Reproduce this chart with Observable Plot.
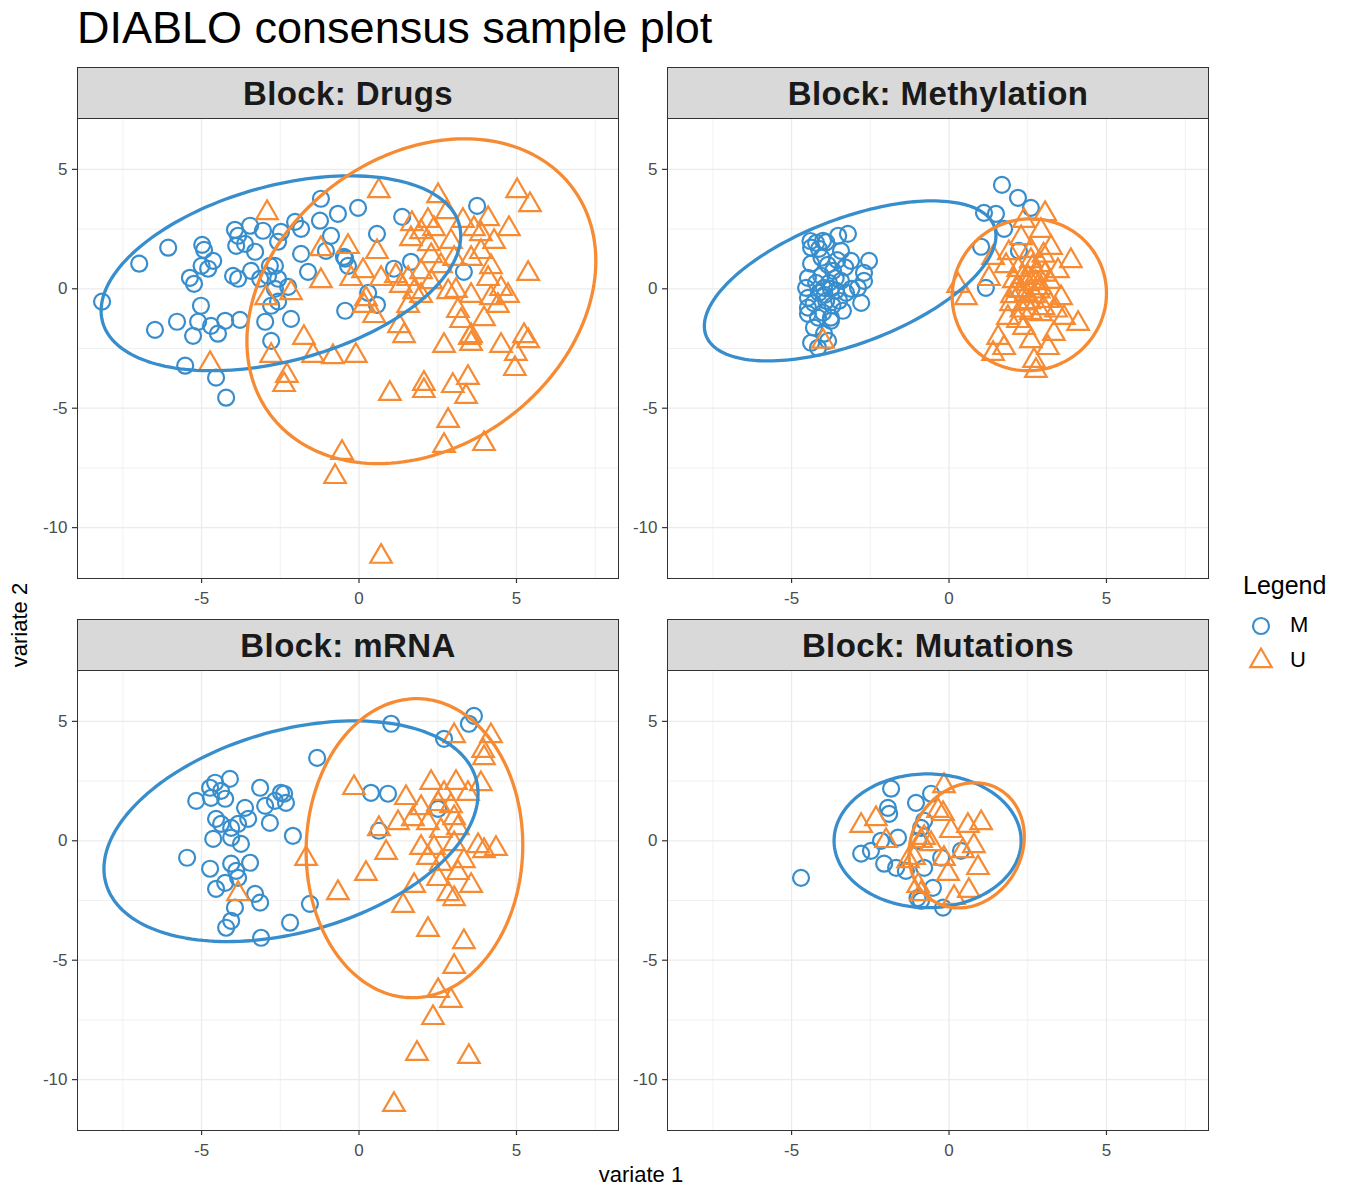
<!DOCTYPE html>
<html><head><meta charset="utf-8">
<script src="https://cdn.jsdelivr.net/npm/d3@7"></script>
<script src="https://cdn.jsdelivr.net/npm/@observablehq/plot@0.6"></script>
<style>
body{margin:0;background:#fff;font-family:"Liberation Sans",Arial,Helvetica,sans-serif;}
#root{position:relative;width:1350px;height:1200px;overflow:hidden;}
.title{position:absolute;left:77px;top:2px;font-size:45px;line-height:52px;color:#000;white-space:nowrap;}
.strip{position:absolute;box-sizing:border-box;border:1px solid #333;background:#d9d9d9;height:52px;width:542px;display:flex;align-items:center;justify-content:center;font-weight:bold;font-size:33px;letter-spacing:0.4px;color:#1a1a1a;padding-top:2px;}
.panel{position:absolute;}
.xlab{position:absolute;left:541px;top:1162px;width:200px;text-align:center;font-size:22px;line-height:26px;color:#000;}
.ylab{position:absolute;left:-80px;top:612px;width:200px;text-align:center;font-size:22px;line-height:26px;color:#000;transform:rotate(-90deg);}
.legend{position:absolute;left:1243px;top:571px;font-size:25px;line-height:29px;color:#000;}
.legend .item{display:flex;align-items:center;height:35px;font-size:22px;}
.legend .item svg{margin-left:5px;margin-right:16px;}
</style>
</head><body>
<div id="root"></div>
<script>
// ---------- data ----------
const blocks = ["Drugs", "Methylation", "mRNA", "Mutations"];
const groups = ["M", "U"];
const groupColors = ["#388ECC", "#F68B33"];
const xTicks = [-5, 0, 5];
const yTicks = [-10, -5, 0, 5];
const xMinor = [-7.5, -2.5, 2.5, 7.5];
const yMinor = [-7.5, -2.5, 2.5];
const xDomain = [-8.94, 8.24];
const yDomain = [-12.13, 7.13];

const drugsM = [[-8.16,-0.54],[-6.98,1.05],[-6.06,1.72],[-4.98,1.84],[-4.92,1.63],[-4.63,1.17],[-5.0,0.96],[-4.79,0.84],[-5.37,0.46],[-5.24,0.21],[-3.94,2.47],[-3.84,2.22],[-3.46,2.64],[-3.9,1.8],[-3.62,1.88],[-3.30,1.55],[-3.05,2.43],[-2.48,2.38],[-2.57,1.97],[-2.03,2.80],[-1.84,2.51],[-1.21,3.77],[-1.24,2.85],[-0.67,3.14],[-0.89,2.22],[-1.05,1.59],[-0.44,1.26],[-1.84,1.46],[-1.62,0.71],[-4.0,0.54],[-3.84,0.42],[-3.43,0.75],[-3.14,0.42],[-2.83,0.96],[-2.67,0.96],[-2.89,0.54],[-2.57,0.42],[-2.67,0.0],[-2.25,0.08],[-2.57,-0.54],[-2.79,-0.71],[-2.16,-1.26],[-5.02,-0.71],[-6.48,-1.72],[-5.78,-1.38],[-5.11,-1.38],[-4.70,-1.55],[-5.27,-1.97],[-4.48,-1.88],[-4.25,-1.34],[-3.78,-1.30],[-2.98,-1.38],[-2.79,-2.18],[-0.44,-0.92],[-5.52,-3.22],[-4.54,-3.72],[-4.22,-4.56],[-0.03,3.39],[1.37,3.01],[0.57,2.30],[3.75,3.47],[1.65,1.13],[1.11,0.84],[3.33,0.71],[0.29,-0.17],[0.57,-0.67],[-0.48,1.34],[-0.35,0.96]];
const drugsU = [[0.63,4.10],[2.51,3.89],[5.02,4.10],[5.43,3.51],[2.79,3.22],[4.10,2.93],[4.76,2.51],[1.68,2.72],[2.19,2.85],[1.97,2.38],[2.38,2.51],[3.30,2.85],[3.65,2.51],[1.65,2.09],[2.22,1.88],[2.92,1.97],[3.87,2.30],[4.29,1.97],[0.57,1.55],[-0.35,1.76],[2.29,1.38],[2.60,0.96],[3.02,1.26],[3.56,1.26],[3.87,1.55],[4.19,0.92],[5.37,0.63],[0.13,0.75],[0.70,0.42],[1.17,0.54],[1.56,0.42],[1.97,0.71],[2.29,0.29],[2.83,-0.13],[3.56,-0.29],[4.10,0.42],[4.51,0.0],[4.73,-0.29],[1.33,0.13],[1.75,-0.13],[0.16,-0.71],[0.48,-1.13],[1.27,-1.55],[1.56,-0.71],[3.14,-0.92],[3.97,-1.26],[4.41,-0.71],[1.43,-1.97],[2.70,-2.38],[3.56,-1.97],[3.56,-2.30],[4.51,-2.38],[5.24,-1.97],[5.37,-2.18],[-0.10,-2.80],[-2.92,3.18],[-1.21,1.67],[-1.21,0.33],[-2.95,-0.38],[-2.16,-0.17],[-1.75,-2.05],[-1.46,-2.80],[-0.83,-2.85],[-2.79,-2.80],[-2.29,-3.64],[-2.38,-4.02],[-4.73,-3.14],[0.98,-4.39],[2.06,-3.97],[2.06,-4.27],[2.98,-4.06],[3.46,-3.72],[3.40,-4.52],[2.83,-5.52],[2.70,-6.57],[3.97,-6.49],[-0.54,-6.86],[-0.76,-7.87],[0.70,-11.21],[3.52,-2.05],[4.98,-2.72],[4.95,-3.35],[-0.25,0.42],[0.22,-0.42],[1.97,-0.29],[3.24,-1.34],[4.19,-0.38],[3.08,-0.08]];

const methM = [[-4.22,1.92],[-4.0,2.01],[-3.52,2.22],[-3.21,2.30],[-4.38,1.72],[-4.13,1.67],[-3.43,1.59],[-3.11,1.17],[-2.54,1.17],[-2.70,0.67],[-4.38,1.05],[-4.48,0.46],[-4.54,0.04],[-4.48,-0.38],[-4.48,-0.79],[-4.48,-1.05],[-4.16,-1.21],[-3.75,-1.21],[-3.37,-0.92],[-2.79,-0.59],[-2.89,0.04],[-2.70,0.33],[-4.29,-1.63],[-3.97,-1.88],[-3.75,-1.34],[-4.38,-2.26],[-4.16,-2.47],[-3.84,-2.18],[-3.97,0.04],[-4.06,0.54],[-3.81,0.25],[-3.59,-0.08],[-3.90,-0.50],[-4.13,-0.17],[-3.68,0.75],[-3.43,0.33],[-3.27,-0.17],[-4.22,0.25],[-3.49,-0.50],[-3.85,1.0],[-3.6,0.45],[-4.3,-0.6],[-3.7,-0.7],[-4.0,-1.0],[-3.55,1.2],[-4.05,1.3],[-3.3,0.9],[-3.1,0.0],[-3.95,-0.25],[-3.75,0.0],[-4.4,2.0],[-3.9,1.95],[1.68,4.35],[2.19,3.81],[2.60,3.39],[1.11,3.18],[1.49,3.14],[1.75,2.51],[1.02,1.76],[1.17,0.04],[2.22,1.59]];
const methU = [[3.05,3.14],[2.38,2.85],[2.92,2.43],[2.29,2.13],[1.40,1.30],[1.81,0.96],[1.27,0.42],[0.29,0.13],[0.54,-0.38],[3.87,1.17],[4.10,-1.46],[1.56,-2.05],[1.40,-2.72],[1.75,-2.47],[2.60,-2.18],[3.14,-2.47],[2.76,-3.43],[2.70,-3.01],[3.65,-1.21],[1.97,-0.63],[2.29,-0.08],[2.92,0.04],[3.46,0.75],[2.60,1.17],[3.24,1.72],[2.19,-1.34],[2.92,-1.05],[1.87,-1.21],[2.51,0.46],[3.14,-0.50],[3.56,-0.38],[2.06,0.33],[2.38,-1.63],[3.33,-1.88],[2.5,0.2],[2.7,-0.3],[2.4,-0.6],[2.8,0.6],[3.0,-0.8],[2.2,0.8],[2.6,-1.0],[3.2,0.3],[2.0,-0.3],[2.9,1.0],[2.3,-0.9],[3.4,-0.9],[2.6,1.6],[3.0,1.4],[1.9,1.5],[2.45,-0.2],[2.75,0.25],[2.55,-0.55],[2.85,-0.1],[2.35,0.5],[3.05,0.6],[2.65,0.9],[2.15,-0.05],[-4.0,-2.2]];

const mrnaM = [[-1.33,3.47],[-4.10,2.59],[-4.57,2.43],[-4.73,2.22],[-4.38,2.09],[-5.17,1.67],[-4.70,1.80],[-4.25,1.76],[-3.14,2.22],[-2.48,2.01],[-2.67,1.67],[-2.32,1.59],[-2.98,1.46],[-3.62,1.38],[-3.52,0.92],[-4.54,0.92],[-4.38,0.71],[-4.06,0.54],[-3.84,0.71],[-2.83,0.75],[-4.63,0.08],[-4.06,0.13],[-3.75,-0.13],[-2.10,0.21],[-5.46,-0.71],[-4.73,-1.17],[-4.06,-0.96],[-3.46,-0.92],[-3.90,-1.26],[-4.25,-1.76],[-4.54,-2.01],[-3.30,-2.22],[-3.14,-2.59],[-3.94,-2.80],[-4.06,-3.35],[-4.22,-3.64],[-2.19,-3.43],[-3.11,-4.06],[-1.56,-2.64],[-3.84,-1.55],[1.02,4.90],[2.70,4.27],[3.65,5.23],[3.49,4.90],[0.38,2.01],[0.92,1.97],[2.51,1.34],[0.63,0.42],[-2.38,1.97]];
const mrnaU = [[3.02,4.39],[4.19,4.39],[3.97,3.47],[3.94,3.77],[-0.16,2.22],[2.29,2.43],[3.08,2.43],[3.87,2.38],[1.49,1.80],[2.70,1.97],[3.46,1.97],[1.97,1.38],[2.51,1.55],[2.92,1.46],[1.71,0.92],[1.24,0.75],[2.19,0.75],[3.02,0.96],[0.63,0.50],[2.60,0.42],[3.14,0.54],[1.97,-0.29],[2.38,-0.29],[3.02,-0.13],[3.78,-0.21],[4.35,-0.33],[3.97,-0.42],[0.86,-0.50],[-1.68,-0.75],[2.19,-0.71],[2.60,-0.96],[3.33,-0.84],[0.22,-1.38],[3.14,-1.34],[2.51,-1.59],[3.56,-1.88],[1.75,-1.88],[-0.67,-2.18],[1.40,-2.72],[3.02,-2.43],[2.83,-2.22],[2.19,-3.72],[3.33,-4.23],[3.02,-5.27],[2.51,-6.28],[2.92,-6.69],[2.35,-7.41],[1.84,-8.91],[3.49,-9.04],[1.11,-11.05],[-3.84,-2.22]];

const mutM = [[-4.70,-1.55],[-1.84,2.18],[-1.94,1.38],[-1.90,1.13],[-1.05,1.59],[-0.57,1.97],[-2.79,-0.54],[-2.48,-0.42],[-2.16,0.0],[-1.62,0.13],[-2.06,-0.96],[-1.68,-1.13],[-1.37,-1.26],[-0.89,0.54],[-0.79,0.84],[-0.98,0.0],[-0.25,-0.71],[-0.79,-1.13],[-0.51,-1.97],[-0.89,-2.51],[-0.19,-2.80],[0.38,-0.42],[-1.0,-2.4]];
const mutU = [[-0.16,2.30],[-0.35,1.26],[-0.19,1.13],[-2.79,0.63],[-2.32,0.92],[-2.0,0.0],[-0.89,0.0],[-1.11,-0.71],[-1.30,-0.84],[0.06,0.42],[0.60,0.63],[1.02,0.75],[0.79,-0.21],[0.44,-0.42],[-0.16,-0.75],[-0.03,-1.38],[0.92,-1.13],[-0.98,-1.88],[-0.89,-2.22],[0.63,-2.09],[0.16,-2.38],[-0.57,-0.13],[-0.79,0.13]];

// ellipse estimates per block/group: centre, half-extent along x and y, tilt phase
const ellBlock = ["Drugs","Drugs","Methylation","Methylation","mRNA","mRNA","Mutations","Mutations"];
const ellGroup = ["M","U","M","U","M","U","M","U"];
const ellCx  = [-2.48, 1.98, -3.14, 2.55, -2.16, 1.76, -0.68, 0.56];
const ellCy  = [ 0.65,-0.52,  0.33,-0.25,  0.40,-0.31,  0.00,-0.19];
const ellRx  = [ 5.71, 5.54,  4.63, 2.45,  5.94, 3.44,  2.97, 1.83];
const ellRy  = [ 4.08, 6.80,  3.35, 3.18,  4.62, 6.26,  2.80, 2.62];
const ellPhi = [ 0.395,0.25,  0.60, 0.02,  0.347,0.02,  0.0,  0.14];

const pointsByBlock = {
  Drugs: [drugsM, drugsU], Methylation: [methM, methU], mRNA: [mrnaM, mrnaU], Mutations: [mutM, mutU]
};

// ---------- layout ----------
const colLeft = [77, 667];
const rowTop = [67, 619];
const stripH = 51;
const panelW = 541, panelH = 460;
const mL = 40, mR = 1, mT = 1, mB = 36;
const FONT = '"Liberation Sans", Arial, Helvetica, sans-serif';

const root = document.getElementById("root");
const title = document.createElement("div");
title.className = "title";
title.textContent = "DIABLO consensus sample plot";
root.appendChild(title);

function ellipsePts(i) {
  const pts = [];
  for (let k = 0; k <= 180; k++) {
    const t = (k / 180) * 2 * Math.PI;
    pts.push({x: ellCx[i] + ellRx[i] * Math.cos(t), y: ellCy[i] + ellRy[i] * Math.sin(t + ellPhi[i])});
  }
  return pts;
}

blocks.forEach((b, bi) => {
  const col = bi % 2, row = Math.floor(bi / 2);
  const strip = document.createElement("div");
  strip.className = "strip";
  strip.style.left = colLeft[col] + "px";
  strip.style.top = rowTop[row] + "px";
  strip.textContent = "Block: " + b;
  root.appendChild(strip);

  const [mPts, uPts] = pointsByBlock[b];
  const M = mPts.map(([x, y]) => ({x, y}));
  const U = uPts.map(([x, y]) => ({x, y}));
  const ellMarks = [];
  ellBlock.forEach((eb, i) => {
    if (eb !== b) return;
    ellMarks.push(Plot.line(ellipsePts(i), {x: "x", y: "y", stroke: groupColors[groups.indexOf(ellGroup[i])], strokeWidth: 3.3}));
  });

  const chart = Plot.plot({
    width: mL + panelW + mR,
    height: mT + panelH + mB,
    marginLeft: mL, marginRight: mR, marginTop: mT, marginBottom: mB,
    style: {fontFamily: FONT, fontSize: "17px", color: "#4d4d4d", background: "transparent"},
    x: {domain: xDomain, label: null},
    y: {domain: yDomain, label: null},
    marks: [
      Plot.ruleX(xMinor, {stroke: "#ebebeb", strokeWidth: 0.7}),
      Plot.ruleY(yMinor, {stroke: "#ebebeb", strokeWidth: 0.7}),
      Plot.ruleX(xTicks, {stroke: "#ebebeb", strokeWidth: 1.3}),
      Plot.ruleY(yTicks, {stroke: "#ebebeb", strokeWidth: 1.3}),
      Plot.axisX({ticks: xTicks, tickFormat: d => String(d), tickSize: 5, tickPadding: 8, fontSize: 17, fill: "#4d4d4d", stroke: "#333", strokeWidth: 1.2}),
      Plot.axisY({ticks: yTicks, tickFormat: d => String(d), tickSize: 5, tickPadding: 5, fontSize: 17, fill: "#4d4d4d", stroke: "#333", strokeWidth: 1.2}),
      Plot.dot(M, {x: "x", y: "y", symbol: "circle", r: 8, stroke: groupColors[0], strokeWidth: 2.2, fill: "none"}),
      Plot.dot(U, {x: "x", y: "y", symbol: "triangle", r: 8, stroke: groupColors[1], strokeWidth: 2.2, fill: "none"}),
      ...ellMarks,
      Plot.frame({stroke: "#333", strokeWidth: 1})
    ]
  });
  const wrap = document.createElement("div");
  wrap.className = "panel";
  wrap.style.left = (colLeft[col] - mL) + "px";
  wrap.style.top = (rowTop[row] + stripH - mT) + "px";
  wrap.appendChild(chart);
  root.appendChild(wrap);
});

const xl = document.createElement("div"); xl.className = "xlab"; xl.textContent = "variate 1"; root.appendChild(xl);
const yl = document.createElement("div"); yl.className = "ylab"; yl.textContent = "variate 2"; root.appendChild(yl);

// legend
const leg = document.createElement("div");
leg.className = "legend";
const lt = document.createElement("div"); lt.textContent = "Legend"; lt.style.marginBottom = "7px"; leg.appendChild(lt);
groups.forEach((g, i) => {
  const it = document.createElement("div"); it.className = "item";
  const svg = d3.create("svg").attr("width", 26).attr("height", 26);
  svg.append("path")
    .attr("transform", "translate(13,14)")
    .attr("d", d3.symbol(i === 0 ? d3.symbolCircle : d3.symbolTriangle, Math.PI * 64)())
    .attr("fill", "none").attr("stroke", groupColors[i]).attr("stroke-width", 2.2);
  it.appendChild(svg.node());
  const s = document.createElement("span"); s.textContent = g; it.appendChild(s);
  leg.appendChild(it);
});
root.appendChild(leg);
</script>
</body></html>
